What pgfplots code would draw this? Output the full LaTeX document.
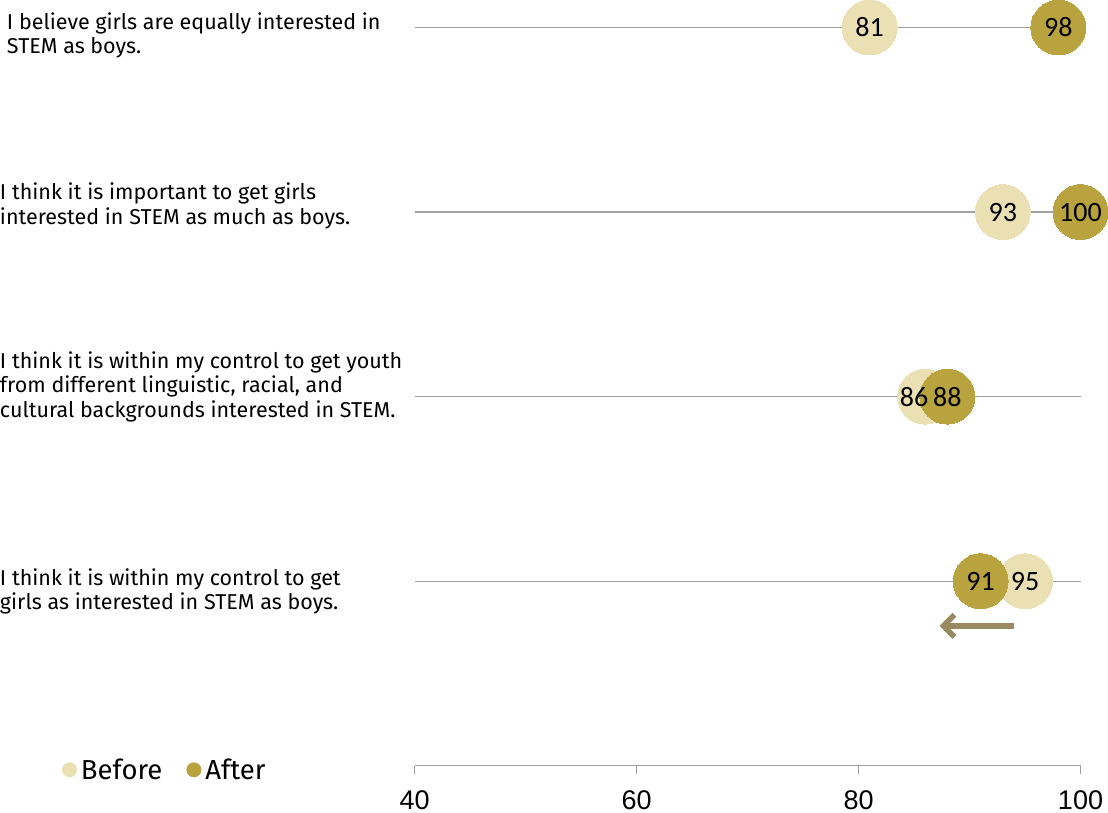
\documentclass[border=0pt]{standalone}
\usepackage{pgfplots}
\pgfplotsset{compat=1.18}
\usepackage{fontspec}
\setmainfont{Fira Sans}
\newfontfamily\numfont{Carlito}
\newfontfamily\tickfont{Liberation Sans}
\usetikzlibrary{arrows.meta}

\definecolor{beforecol}{HTML}{EBE0B4}
\definecolor{aftercol}{HTML}{B9A33F}
\definecolor{rulecol}{HTML}{A0A0A0}
\definecolor{arrowcol}{HTML}{9A8A62}

\begin{document}
\begin{tikzpicture}
\begin{axis}[
  at={(0,0)}, anchor=origin,
  width=666bp, height=738.5bp, scale only axis,
  xmin=40, xmax=100, ymin=0, ymax=4,
  clip=false,
  axis y line=none,
  axis x line*=bottom,
  x axis line style={rulecol, line width=1.4bp},
  xtick={40,60,80,100},
  tick align=outside,
  major tick length=8bp,
  every tick/.style={rulecol, line width=1.4bp},
  xticklabel style={font=\tickfont\fontsize{27bp}{32bp}\selectfont, yshift=-13bp},
  /pgf/number format/assume math mode=true,
  legend columns=2,
  legend style={draw=none, fill=none, at={(rel axis cs:0,0)}, anchor=west,
    xshift=-353bp, yshift=-4bp,
    font=\fontsize{27.5bp}{30bp}\selectfont,
    /tikz/every even column/.append style={column sep=22bp},
    /tikz/every odd column/.append style={column sep=2bp},
    inner sep=0pt},
  legend image code/.code={\fill[#1] (0bp,0bp) circle (7.5bp);},
]
% grey guide lines, one per statement
\addplot[rulecol, line width=1.4bp, forget plot] coordinates {(40,4) (100,4)};
\addplot[rulecol, line width=1.4bp, forget plot] coordinates {(40,3) (100,3)};
\addplot[rulecol, line width=1.4bp, forget plot] coordinates {(40,2) (100,2)};
\addplot[rulecol, line width=1.4bp, forget plot] coordinates {(40,1) (100,1)};

% dots
\addplot[only marks, mark=*, mark size=27.5bp, draw=none,
  mark options={fill=beforecol, draw=beforecol, line width=0pt}, fill=beforecol]
  coordinates {(81,4) (93,3) (86,2) (95,1)};
\addlegendentry{Before}
\addplot[only marks, mark=*, mark size=27.5bp, draw=none,
  mark options={fill=aftercol, draw=aftercol, line width=0pt}, fill=aftercol]
  coordinates {(98,4) (100,3) (88,2) (91,1)};
\addlegendentry{After}

% value labels on top of the dots
\pgfplotsset{dotlabel/.style={only marks, mark=none, forget plot,
  nodes near coords, point meta=explicit symbolic,
  every node near coord/.append style={anchor=center, inner sep=0pt,
    font=\numfont\fontsize{28bp}{32bp}\selectfont, text=black}}}
\addplot[dotlabel] coordinates {(81,4)[81] (93,3)[93] (95,1)[95]};
\addplot[dotlabel, every node near coord/.append style={xshift=-11bp}]
  coordinates {(86,2)[86]};
\addplot[dotlabel] coordinates {(98,4)[98] (100,3)[100] (88,2)[88] (91,1)[91]};

% change indicator
\draw[arrowcol, line width=5.5bp, -{Straight Barb[length=11bp, width=22bp]}]
  (axis cs:94.05,0.758) -- (axis cs:87.3,0.758);

% statements
\begin{scope}[every node/.style={anchor=west, align=left, inner sep=0pt,
    font=\fontsize{21.5bp}{24.5bp}\selectfont}]
\node at ([xshift=-408bp, yshift=-8bp]axis cs:40,4)
  {I believe girls are equally interested in\\STEM as boys.};
\node at ([xshift=-415bp, yshift=6bp]axis cs:40,3)
  {I think it is important to get girls\\interested in STEM as much as boys.};
\node at ([xshift=-415bp, yshift=10bp]axis cs:40,2)
  {I think it is within my control to get youth\\from different linguistic, racial, and\\cultural backgrounds interested in STEM.};
\node at ([xshift=-415bp, yshift=-10bp]axis cs:40,1)
  {I think it is within my control to get\\girls as interested in STEM as boys.};
\end{scope}
\end{axis}
\end{tikzpicture}
\end{document}
